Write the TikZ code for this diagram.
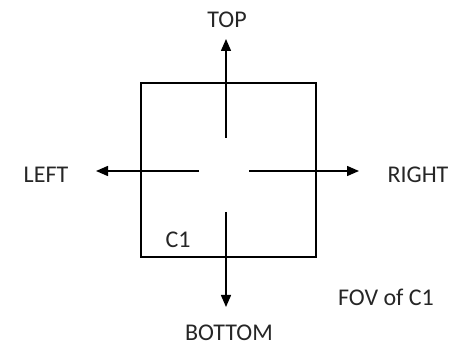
\documentclass[tikz,border=0pt]{standalone}
\usepackage{fontspec}
\setmainfont{Carlito}
\usetikzlibrary{arrows.meta}

\begin{document}
\begin{tikzpicture}[x=1pt, y=-1pt, thick,
  lbl/.style={inner sep=0pt, font=\fontsize{24}{28}\selectfont, text=black!85},
  dir/.style={line width=1.5pt, -{Triangle[length=12pt, width=10pt]}}]
  \useasboundingbox (0,0) rectangle (450,347);

  % field of view
  \node[draw, line width=1.2pt, minimum width=175pt, minimum height=174pt, inner sep=0pt] (fov) at (228.5,170) {};
  \node[lbl] (c1) at (178,240) {C1};
  \node[lbl] (cap) at (386,297) {FOV of C1};

  % arrow ends
  \coordinate (Ut) at (226,138);
  \coordinate (Uh) at (226,39);
  \coordinate (Dt) at (226,212);
  \coordinate (Dh) at (226,307);
  \coordinate (Lt) at (199,171);
  \coordinate (Lh) at (96,171);
  \coordinate (Rt) at (249,171);
  \coordinate (Rh) at (359,171);
  \draw[dir] (Ut) -- (Uh);
  \draw[dir] (Dt) -- (Dh);
  \draw[dir] (Lt) -- (Lh);
  \draw[dir] (Rt) -- (Rh);

  % directions
  \node[lbl] (top) at (227,20) {TOP};
  \node[lbl] (bottom) at (229,333) {BOTTOM};
  \node[lbl] (left) at (46,175) {LEFT};
  \node[lbl] (right) at (418,175) {RIGHT};
\end{tikzpicture}
\end{document}
